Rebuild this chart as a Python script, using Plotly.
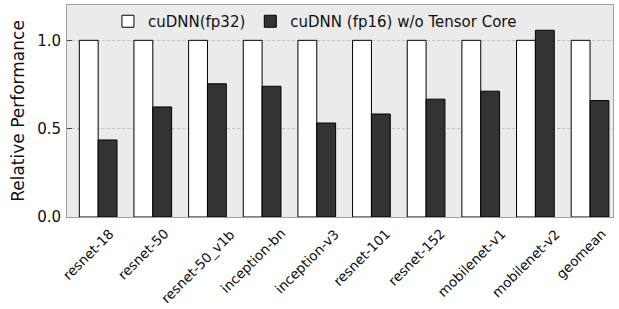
import plotly.graph_objects as go

categories = ["resnet-18", "resnet-50", "resnet-50_v1b", "inception-bn", "inception-v3",
              "resnet-101", "resnet-152", "mobilenet-v1", "mobilenet-v2", "geomean"]
fp32 = [1.0, 1.0, 1.0, 1.0, 1.0, 1.0, 1.0, 1.0, 1.0, 1.0]
fp16 = [0.436, 0.623, 0.754, 0.740, 0.532, 0.583, 0.667, 0.712, 1.057, 0.659]
series_names = ["cuDNN(fp32)", "cuDNN (fp16) w/o Tensor Core"]
y_ticks = [0.0, 0.5, 1.0]
y_tick_labels = ["0.0", "0.5", "1.0"]

fig = go.Figure()
fig.add_trace(go.Bar(x=categories, y=fp32, name=series_names[0],
                     marker=dict(color="white", line=dict(color="black", width=1))))
fig.add_trace(go.Bar(x=categories, y=fp16, name=series_names[1],
                     marker=dict(color="#333333", line=dict(color="black", width=1))))

# category labels, centred under the white bar of each group (rotated 45 degrees)
for cat in categories:
    fig.add_annotation(x=cat, xref="x", xshift=-9.5, y=0, yref="paper", yshift=-6,
                       text=cat, textangle=-45, showarrow=False,
                       xanchor="center", yanchor="top",
                       font=dict(size=13.5, family="DejaVu Sans", color="#111111"))

fig.update_layout(
    width=619, height=309,
    margin=dict(l=67, r=6, t=5, b=92, autoexpand=False),
    paper_bgcolor="white",
    plot_bgcolor="#ebebeb",
    barmode="group",
    bargap=0.31,
    bargroupgap=0,
    font=dict(family="DejaVu Sans", color="#111111"),
    legend=dict(orientation="h", x=0.075, xanchor="left", y=1.0, yanchor="top",
                bgcolor="rgba(0,0,0,0)", font=dict(size=15),
                tracegroupgap=0),
    showlegend=True,
)
fig.update_xaxes(
    type="category", range=[-0.57, 9.42], automargin=False,
    showticklabels=False,
    showgrid=False, showline=True, linecolor="#a0a0a0", linewidth=1, mirror=True,
    ticks="", ticklen=0,
)
fig.update_yaxes(
    range=[0, 1.2], tickvals=y_ticks, ticktext=y_tick_labels, automargin=False,
    tickfont=dict(size=15), ticklabelstandoff=2,
    title=dict(text="Relative Performance", font=dict(size=17), standoff=8),
    showgrid=True, gridcolor="#c4c4c4", griddash="3px,2px", gridwidth=1,
    showline=True, linecolor="#a0a0a0", linewidth=1, mirror=True,
    ticks="inside", ticklen=5, tickcolor="#444444",
    zeroline=False,
)

fig.write_html("out.html", config={"displayModeBar": False},
               post_script="document.body.style.margin='0';document.body.style.padding='0';")
